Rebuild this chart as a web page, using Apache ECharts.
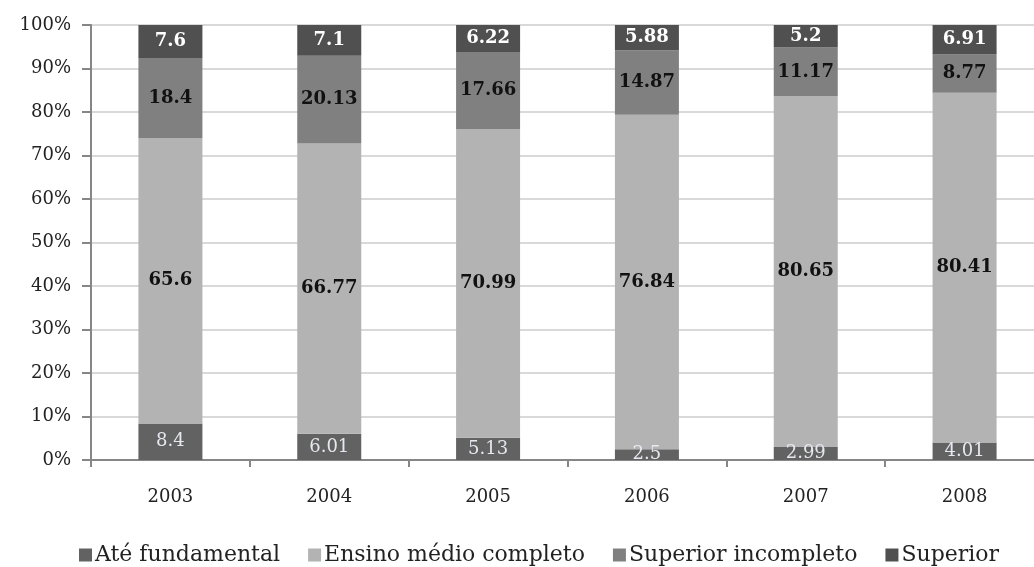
<!DOCTYPE html>
<html>
<head>
<meta charset="utf-8">
<script src="https://cdn.jsdelivr.net/npm/echarts@6/dist/echarts.min.js"></script>
<style>
  html, body { margin: 0; padding: 0; background: #fff; }
  #chart { width: 1034px; height: 567px; }
</style>
</head>
<body>
<div id="chart"></div>
<script>
// Education level shares by year (percent)
const years = ['2003', '2004', '2005', '2006', '2007', '2008'];
const ateFundamental = [8.4, 6.01, 5.13, 2.5, 2.99, 4.01];
const ensinoMedio = [65.6, 66.77, 70.99, 76.84, 80.65, 80.41];
const superiorIncompleto = [18.4, 20.13, 17.66, 14.87, 11.17, 8.77];
const superior = [7.6, 7.1, 6.22, 5.88, 5.2, 6.91];
const seriesNames = ['Até fundamental', 'Ensino médio completo', 'Superior incompleto', 'Superior'];

const FONT = '"DejaVu Serif", "Liberation Serif", serif';

function makeSeries(name, data, color, labelColor, bold) {
  return {
    name: name,
    type: 'bar',
    stack: 'total',
    barWidth: 64,
    data: data,
    itemStyle: { color: color },
    label: {
      show: true,
      position: 'inside',
      formatter: p => String(p.value),
      color: labelColor,
      fontFamily: FONT,
      fontSize: 18,
      fontWeight: bold ? 'bold' : 'normal'
    }
  };
}

const chart = echarts.init(document.getElementById('chart'));
chart.setOption({
  animation: false,
  backgroundColor: '#ffffff',
  // the plot area runs slightly past the right edge of the canvas
  grid: { left: 91, width: 953, top: 25, height: 435, outerBoundsMode: 'none', containLabel: false },
  legend: {
    data: seriesNames,
    bottom: -4,
    left: 74,
    itemWidth: 13,
    itemHeight: 13,
    itemGap: 28,
    icon: 'rect',
    textStyle: { fontFamily: FONT, fontSize: 22, color: '#222', padding: [0, 0, 0, -2] }
  },
  xAxis: {
    type: 'category',
    data: years,
    axisLine: { lineStyle: { color: '#868686', width: 2 } },
    axisTick: { show: true, alignWithLabel: false, length: 7, lineStyle: { color: '#868686', width: 2 } },
    axisLabel: { fontFamily: FONT, fontSize: 18, color: '#222', margin: 28 },
    splitLine: { show: false }
  },
  yAxis: {
    type: 'value',
    min: 0,
    max: 100,
    interval: 10,
    axisLine: { show: true, lineStyle: { color: '#868686', width: 2 } },
    axisTick: { show: true, inside: false, length: 9, lineStyle: { color: '#868686', width: 2 } },
    axisLabel: { fontFamily: FONT, fontSize: 18, color: '#222', margin: 20, formatter: '{value}%' },
    splitLine: { lineStyle: { color: '#d9d9d9', width: 2 } }
  },
  series: [
    makeSeries(seriesNames[0], ateFundamental, '#626262', '#e6e8ef', false),
    makeSeries(seriesNames[1], ensinoMedio, '#b3b3b3', '#111', true),
    makeSeries(seriesNames[2], superiorIncompleto, '#808080', '#111', true),
    makeSeries(seriesNames[3], superior, '#505050', '#ffffff', true)
  ]
});
</script>
</body>
</html>
